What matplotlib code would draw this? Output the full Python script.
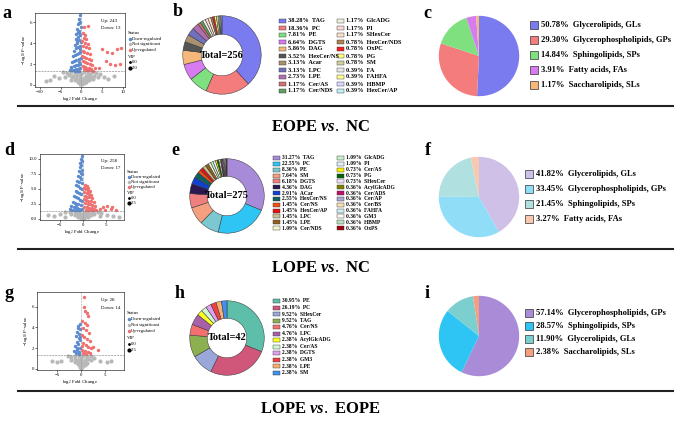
import matplotlib
matplotlib.use("Agg")
from matplotlib import pyplot as plt
from matplotlib.patches import Rectangle
from matplotlib.lines import Line2D

plt.rcParams['font.family'] = ['Liberation Serif', 'DejaVu Serif']
plt.rcParams['mathtext.fontset'] = 'custom'
plt.rcParams['mathtext.rm'] = 'Liberation Serif'
plt.rcParams['mathtext.it'] = 'Liberation Serif:italic:bold'
plt.rcParams['mathtext.bf'] = 'Liberation Serif:bold'

W, H = 685, 421

# ---------------- data ----------------
# volcano a (EOPE vs NC)
a_down_x = [-0.3, -0.6, -0.4, -0.8, -0.2, -1.0, -0.5, -0.7, -1.2, -0.3, -0.9, -1.4, -0.6, -0.2, -1.1, -1.6, -0.4,
            -0.8, -1.3, -1.8, -0.3, -0.6, -1.0, -1.5, -2.0, -0.2, -0.7, -1.2, -1.7, -2.3, -0.4, -0.9, -1.4, -1.9,
            -2.5, -0.3, -0.8, -1.3, -1.8, -2.2, -2.8, -0.5, -1.0, -1.6, -2.4, -0.5, -0.9, -1.1, -0.3, -0.6]
a_down_y = [6.7, 6.3, 6.0, 5.8, 5.6, 5.4, 5.2, 5.0, 4.9, 4.8, 4.6, 4.4, 4.3, 4.1, 4.0, 3.8, 3.7, 3.6, 3.5, 3.3,
            3.2, 3.1, 3.0, 2.9, 2.8, 2.6, 2.5, 2.4, 2.3, 2.2, 2.0, 1.9, 1.9, 1.8, 1.7, 1.6, 1.5, 1.5, 1.45, 1.4,
            1.4, 1.35, 1.35, 1.32, 1.5, 5.9, 5.1, 4.2, 3.4, 2.2]
a_up_x = [0.6, 1.6, 0.3, 0.9, 0.5, 1.2, 0.2, 0.8, 1.5, 0.4, 1.0, 1.8, 0.3, 0.7, 1.3, 2.0, 0.2, 0.6, 1.1, 1.7, 2.3,
          0.4, 0.9, 1.4, 2.0, 2.6, 0.3, 0.8, 1.2, 1.8, 2.4, 0.5, 1.0, 1.6, 2.2, 2.8, 3.2, 5.0, 6.2, 7.4, 8.6, 9.6,
          5.8, 7.0, 8.2, 9.2, 4.2]
a_up_y = [5.6, 5.7, 5.0, 4.8, 4.5, 4.4, 4.2, 4.0, 3.9, 3.7, 3.6, 3.5, 3.3, 3.2, 3.1, 3.0, 2.8, 2.7, 2.6, 2.5, 2.4,
          2.3, 2.2, 2.1, 2.0, 1.9, 1.8, 1.7, 1.6, 1.6, 1.5, 1.5, 1.45, 1.4, 1.4, 1.35, 1.6, 3.4, 3.2, 3.1, 3.4, 3.5,
          2.3, 2.0, 1.9, 2.0, 1.6]
a_ns_x = [-4.5, -3.5, -2.5, -1.5, -0.5, 0.5, 1.5, 2.5, 3.5, 4.5, -3.0, -2.0, -1.0, 0.0, 1.0, 2.0, 3.0, -2.2, -1.2,
          -0.3, 0.6, 1.6, 2.4, -1.5, -0.7, 0.2, 1.0, 1.8, -0.9, -0.2, 0.5, 1.1, -0.4, 0.1, 0.5, -6.5, -5.5, -7.5,
          5.5, 6.5, -8.5, 7.8, -4.0, 4.0, -2.6, 2.8]
a_ns_y = [1.2, 1.15, 1.2, 1.1, 1.2, 1.2, 1.15, 1.2, 1.1, 1.05, 0.95, 0.9, 0.95, 1.0, 0.9, 0.95, 0.85, 0.75, 0.7,
          0.75, 0.7, 0.75, 0.65, 0.5, 0.45, 0.5, 0.5, 0.45, 0.3, 0.3, 0.25, 0.3, 0.12, 0.1, 0.15, 0.9, 0.7, 0.5,
          0.8, 0.6, 0.4, 0.9, 0.8, 0.75, 0.5, 0.55]

# volcano d (LOPE vs NC)
d_down_x = [-0.3, -0.5, -0.2, -0.7, -0.4, -0.6, -0.3, -0.9, -0.5, -0.2, -1.0, -0.7, -0.4, -1.2, -0.8, -0.3, -1.4,
            -1.0, -0.6, -0.2, -1.6, -1.2, -0.8, -0.4, -1.9, -1.5, -1.1, -0.7, -0.3, -2.2, -1.8, -1.4, -1.0, -0.5,
            -2.5, -2.0, -1.6, -1.2, -0.8, -0.3, -2.8, -2.3, -1.7, -1.1, -0.6]
d_down_y = [10.5, 10.0, 9.6, 9.3, 9.0, 8.6, 8.2, 8.0, 7.7, 7.4, 7.1, 6.9, 6.6, 6.3, 6.1, 5.9, 5.6, 5.4, 5.2, 5.0,
            4.7, 4.5, 4.3, 4.1, 3.8, 3.6, 3.4, 3.2, 3.0, 2.8, 2.6, 2.5, 2.4, 2.3, 2.1, 2.0, 1.9, 1.8, 1.7, 1.6,
            1.6, 1.5, 1.45, 1.4, 1.4]
d_up_x = [0.4, 0.8, 0.3, 1.2, 0.6, 1.0, 1.5, 0.2, 0.8, 1.3, 1.8, 0.4, 0.9, 1.4, 2.0, 0.3, 0.7, 1.2, 1.7, 2.3, 0.5,
          1.0, 1.5, 2.0, 2.6, 0.3, 0.8, 1.3, 1.9, 2.5, 0.6, 1.1, 1.7, 2.2, 2.9, 3.6, 4.4, 5.3, 6.4, 7.2, 4.8, 6.0]
d_up_y = [5.6, 5.5, 5.2, 5.1, 4.9, 4.7, 4.6, 4.4, 4.3, 4.2, 4.0, 3.8, 3.7, 3.6, 3.4, 3.3, 3.2, 3.0, 2.9, 2.8, 2.6,
          2.5, 2.4, 2.3, 2.2, 2.0, 1.9, 1.8, 1.8, 1.7, 1.5, 1.5, 1.4, 1.4, 1.5, 1.7, 1.9, 2.1, 1.9, 1.5, 1.4, 1.6]
d_ns_x = [-3.8, -2.8, -1.8, -0.8, 0.2, 1.2, 2.2, 3.2, 4.0, -2.5, -1.5, -0.5, 0.5, 1.5, 2.5, -1.8, -0.9, 0.0, 0.9,
          1.8, -1.0, -0.3, 0.4, 1.1, -0.4, 0.2, -7.5, -6.2, -5.0, 5.2, 6.5, 7.8, -3.8, 3.6]
d_ns_y = [1.1, 1.2, 1.15, 1.2, 1.2, 1.15, 1.2, 1.1, 1.0, 0.85, 0.9, 0.85, 0.9, 0.85, 0.8, 0.6, 0.6, 0.65, 0.6,
          0.55, 0.35, 0.35, 0.3, 0.35, 0.12, 0.1, 0.6, 0.4, 0.8, 0.7, 0.5, 0.3, 0.35, 0.45]

# volcano g (LOPE vs EOPE)
g_down_x = [-0.3, -0.6, -0.2, -0.8, -0.4, -1.0, -0.5, -0.2, -0.9, -0.6, -1.2, -0.3, -0.8, -0.5, -1.1, -0.7, -0.3,
            -1.4, -0.9, -0.4]
g_down_y = [4.3, 4.1, 3.8, 3.6, 3.4, 3.2, 3.0, 2.8, 2.6, 2.4, 2.2, 2.0, 1.8, 1.6, 1.5, 3.9, 3.1, 1.7, 2.0, 1.4]
g_up_x = [0.6, 0.7, 0.9, 1.2, 1.4, 0.3, 0.8, 1.3, 0.4, 1.0, 1.6, 0.2, 0.7, 1.2, 1.8, 0.5, 1.0, 1.5, 2.1, 0.3, 0.8,
          1.4, 1.9, 2.6, 3.6, 0.5, 1.1, 0.2]
g_up_y = [6.9, 6.0, 5.6, 5.4, 5.1, 4.6, 4.4, 4.2, 3.9, 3.7, 3.5, 3.3, 3.1, 2.9, 2.7, 2.5, 2.3, 2.1, 2.0, 1.8, 1.7,
          1.6, 1.5, 2.1, 1.8, 1.5, 1.4, 2.2]
g_ns_x = [-2.8, -2.0, -1.2, -0.4, 0.4, 1.2, 2.0, 2.8, -2.0, -1.3, -0.6, 0.1, 0.8, 1.5, 2.2, -1.3, -0.6, 0.0, 0.6,
          1.3, -0.7, -0.2, 0.3, 0.8, -0.3, 0.2, 0.0, -6.0, -5.0, -4.2, 4.0, 5.4, 6.2]
g_ns_y = [1.2, 1.15, 1.2, 1.2, 1.2, 1.15, 1.2, 1.1, 0.9, 0.95, 0.9, 0.95, 0.9, 0.95, 0.85, 0.65, 0.7, 0.65, 0.7,
          0.6, 0.45, 0.4, 0.45, 0.4, 0.2, 0.2, 0.05, 0.75, 0.7, 0.8, 0.75, 0.7, 0.75]

# donut b
b_names = ['TAG', 'PC', 'PE', 'DGTS', 'DAG', 'HexCer/NS', 'Acar', 'LPC', 'LPE', 'Cer/AS', 'Cer/NDS',
           'GlcADG', 'PI', 'SHexCer', 'HexCer/NDS', 'OxPC', 'PG', 'SM', 'FA', 'FAHFA', 'HBMP', 'HexCer/AP']
b_vals = [38.28, 18.36, 7.81, 6.64, 5.86, 3.52, 3.13, 3.13, 2.73, 1.17, 1.17,
          1.17, 1.17, 1.17, 0.78, 0.78, 0.78, 0.78, 0.39, 0.39, 0.39, 0.39]
b_colors = ['#7b7bf0', '#f47c7c', '#7ee07e', '#d67cf0', '#f6b87a', '#555555', '#a89070', '#7070c0', '#b070b0',
            '#d07070', '#60a060', '#f0eedd', '#f8d8d8', '#f8e0c8', '#b08050', '#ee2020', '#ffff80', '#d0d0a0',
            '#e8e8e8', '#ffff90', '#d8d8ff', '#c0f0f8']

# donut e
e_names = ['TAG', 'PC', 'PE', 'SM', 'DGTS', 'DAG', 'ACar', 'HexCer/NS', 'Cer/NS', 'HexCer/AP', 'LPC', 'LPE',
           'Cer/NDS', 'GlcADG', 'PI', 'Cer/AS', 'PG', 'SHexCer', 'AcylGlcADG', 'Cer/ADS', 'Cer/AP', 'Cer/BS',
           'FAHFA', 'GM3', 'HBMP', 'OxPS']
e_vals = [31.27, 22.55, 8.36, 7.64, 6.18, 4.36, 2.91, 2.55, 1.45, 1.45, 1.45, 1.45, 1.09,
          1.09, 1.09, 0.73, 0.73, 0.73, 0.36, 0.36, 0.36, 0.36, 0.36, 0.36, 0.36, 0.36]
e_colors = ['#a88bd8', '#2ec5f5', '#7cc8d0', '#f4a080', '#f08080', '#2a1850', '#1040d0', '#106060', '#f05010',
            '#e81010', '#c8c090', '#906020', '#f8f8d0', '#c8f0c8', '#e0f0f8', '#f8f000', '#006400', '#f0e0f8',
            '#808000', '#c0106a', '#a8a8d0', '#f8e0b0', '#d0f0f8', '#fff8f0', '#b8e0c0', '#a00010']

# donut h
h_names = ['PE', 'PC', 'SHexCer', 'TAG', 'Cer/NS', 'LPC', 'AcylGlcADG', 'Cer/AS', 'DGTS', 'GM3', 'LPE', 'SM']
h_vals = [30.95, 26.19, 9.52, 9.52, 4.76, 4.76, 2.38, 2.38, 2.38, 2.38, 2.38, 2.38]
h_colors = ['#5dbfaa', '#d0567a', '#99a8d8', '#8cb050', '#f47070', '#a860a8', '#ffff20', '#d0f8d0', '#e0a0f0',
            '#f04040', '#f8b070', '#4090f0']

# pies
c_names = ['Glycerolipids, GLs', 'Glycerophospholipids, GPs', 'Sphingolipids, SPs', 'Fatty acids, FAs',
           'Saccharolipids, SLs']
c_vals = [50.78, 29.30, 14.84, 3.91, 1.17]
c_colors = ['#7b7bf0', '#f47c7c', '#7ee07e', '#d67cf0', '#f6b87a']

f_names = ['Glycerolipids, GLs', 'Glycerophospholipids, GPs', 'Sphingolipids, SPs', 'Fatty acids, FAs']
f_vals = [41.82, 33.45, 21.45, 3.27]
f_colors = ['#cfc0e8', '#8fddf7', '#b0e0e0', '#f8c8b0']

i_names = ['Glycerophospholipids, GPs', 'Sphingolipids, SPs', 'Glycerolipids, GLs', 'Saccharolipids, SLs']
i_vals = [57.14, 28.57, 11.90, 2.38]
i_colors = ['#a98bd8', '#2ec5f5', '#7ccfcf', '#f4a080']

# ---------------- drawing ----------------
fig = plt.figure(figsize=(6.85, 4.21), dpi=100)


def box(left, top, w, h):
    return [left / W, 1 - (top + h) / H, w / W, h / H]


def ftext(x, y, s, **kw):
    fig.text(x / W, 1 - y / H, s, **kw)


def volcano(rect, dx, dy, ux, uy, nx, ny, xlim, ylim, yticks, ylabels, up, down, vip):
    ax = fig.add_axes(box(*rect))
    ax.scatter(nx, ny, s=9, color='#b8b8b8', linewidths=0)
    ax.scatter(dx, dy, s=6, color='#5b8bd0', linewidths=0)
    ax.scatter(ux, uy, s=6, color='#f07070', linewidths=0)
    ax.axhline(1.3, color='#777777', ls='--', lw=0.4)
    ax.axvline(0, color='#999999', ls='--', lw=0.4)
    ax.set_xlim(*xlim)
    ax.set_ylim(*ylim)
    ax.set_yticks(yticks)
    ax.set_yticklabels(ylabels)
    ax.tick_params(labelsize=3.5, length=1.2, width=0.4, pad=1)
    for sp in ax.spines.values():
        sp.set_linewidth(0.4)
    ax.set_xlabel('log$_2$ Fold Change', fontsize=3.5, labelpad=1)
    ax.set_ylabel('$-$log$_{10}$ P-value', fontsize=3.5, labelpad=1)
    l, t, w, h = rect
    ax.text(0.73, 0.88, 'Up: %d' % up, transform=ax.transAxes, fontsize=3.5)
    ax.text(0.73, 0.78, 'Down: %d' % down, transform=ax.transAxes, fontsize=3.5)
    # side legend
    x0 = l + w + 3
    y0 = t + h * 0.27
    step = h * 0.075
    ftext(x0, y0, 'Status', fontsize=3.5, va='center')
    items = [('#5b8bd0', 'Down-regulated'), ('#b8b8b8', 'Not significant'), ('#f07070', 'Up-regulated')]
    for k, (col, lab) in enumerate(items):
        yy = y0 + step * (k + 1)
        fig.add_artist(Line2D([(x0 + 1.5) / W], [1 - yy / H], marker='o', ms=1.5, color=col, lw=0,
                              transform=fig.transFigure))
        ftext(x0 + 4, yy, lab, fontsize=3.3, va='center')
    yy = y0 + step * 4.3
    ftext(x0, yy, 'VIP', fontsize=3.5, va='center')
    for k, (ms, lab) in enumerate([(1.0, '0.0'), (2.0, vip)]):
        yv = yy + step * (k + 1)
        fig.add_artist(Line2D([(x0 + 1.5) / W], [1 - yv / H], marker='o', ms=ms, color='black', lw=0,
                              transform=fig.transFigure))
        ftext(x0 + 4, yv, lab, fontsize=3.3, va='center')


def donut(cx, cy, r, vals, colors, total):
    ax = fig.add_axes(box(cx - r, cy - r, 2 * r, 2 * r))
    ax.pie(vals, colors=colors, startangle=90, counterclock=False, radius=1,
           wedgeprops=dict(width=0.47, edgecolor='#333333', linewidth=0.35))
    ax.set_xlim(-1.02, 1.02)
    ax.set_ylim(-1.02, 1.02)
    ax.axis('off')
    ax.text(0, 0, 'Total=%d' % total, ha='center', va='center', fontsize=7.5, fontweight='bold')


def donut_legend(names, vals, colors, x1, x2, y0, step, nrow, fs):
    for k, (n, v, c) in enumerate(zip(names, vals, colors)):
        col = k // nrow
        row = k % nrow
        px = x1 if col == 0 else x2
        py = y0 + row * step
        fig.add_artist(Rectangle((px / W, 1 - (py + 2) / H), 7 / W, 4 / H, facecolor=c, edgecolor='#333333',
                                 linewidth=0.3, transform=fig.transFigure))
        ftext(px + 9, py, '%.2f%%  %s' % (v, n), fontsize=fs, fontweight='bold', va='center')


def pie(cx, cy, r, vals, colors, names, lx, ly, step):
    ax = fig.add_axes(box(cx - r, cy - r, 2 * r, 2 * r))
    ax.pie(vals, colors=colors, startangle=90, counterclock=False, radius=1)
    ax.set_xlim(-1.02, 1.02)
    ax.set_ylim(-1.02, 1.02)
    ax.axis('off')
    for k, (n, v, c) in enumerate(zip(names, vals, colors)):
        py = ly + k * step
        fig.add_artist(Rectangle((lx / W, 1 - (py + 4) / H), 8 / W, 8 / H, facecolor=c, edgecolor='#333333',
                                 linewidth=0.5, transform=fig.transFigure))
        ftext(lx + 11, py, '%.2f%%  %s' % (v, n), fontsize=6.1, fontweight='bold', va='center')


# row 1
volcano((35, 13, 90, 74), a_down_x, a_down_y, a_up_x, a_up_y, a_ns_x, a_ns_y, (-11.2, 10.5), (-0.2, 6.9),
        [0, 2, 4, 6], ['0', '2', '4', '6'], 243, 13, '2.0')
donut(222, 55, 40, b_vals, b_colors, 256)
donut_legend(b_names, b_vals, b_colors, 279, 337, 21, 7.0, 11, 4.5)
pie(479, 56, 41, c_vals, c_colors, c_names, 530, 25, 15)

# row 2
volcano((40, 154, 84, 66), d_down_x, d_down_y, d_up_x, d_up_y, d_ns_x, d_ns_y, (-9.3, 8.9), (-0.2, 10.8),
        [0, 2.5, 5, 7.5, 10], ['0.0', '2.5', '5.0', '7.5', '10.0'], 258, 17, '2.5')
donut(227, 196, 38, e_vals, e_colors, 275)
donut_legend(e_names, e_vals, e_colors, 273, 337, 158, 5.85, 13, 4.0)
pie(479, 197, 41, f_vals, f_colors, f_names, 525, 174, 15)

# row 3
volcano((37, 292, 87, 78), g_down_x, g_down_y, g_up_x, g_up_y, g_ns_x, g_ns_y, (-9.2, 9.0), (-0.1, 7.4),
        [0, 2, 4, 6], ['0', '2', '4', '6'], 28, 14, '2.5')
donut(227, 338, 38, h_vals, h_colors, 42)
donut_legend(h_names, h_vals, h_colors, 273, 337, 301, 6.5, 12, 4.0)
pie(479, 336, 41, i_vals, i_colors, i_names, 525, 313, 13)

# panel letters
for lab, x, y in [('a', 7, 13), ('b', 178, 12), ('c', 427, 13), ('d', 9, 150), ('e', 175, 150), ('f', 428, 150),
                  ('g', 9, 293), ('h', 180, 293), ('i', 427, 293)]:
    ftext(x, y, lab, fontsize=13, fontweight='bold', ha='center', va='center')

# separators and comparison titles
for y in [106, 249, 391]:
    fig.add_artist(Line2D([18 / W, 673 / W], [1 - y / H, 1 - y / H], color='#222222', lw=1.5,
                          transform=fig.transFigure))
ftext(320, 127, r'EOPE $vs.$ NC', fontsize=12, fontweight='bold', ha='center', va='center')
ftext(320, 268, r'LOPE $vs.$ NC', fontsize=12, fontweight='bold', ha='center', va='center')
ftext(320, 409, r'LOPE $vs.$ EOPE', fontsize=12, fontweight='bold', ha='center', va='center')

fig.savefig('out.png', dpi=100)
